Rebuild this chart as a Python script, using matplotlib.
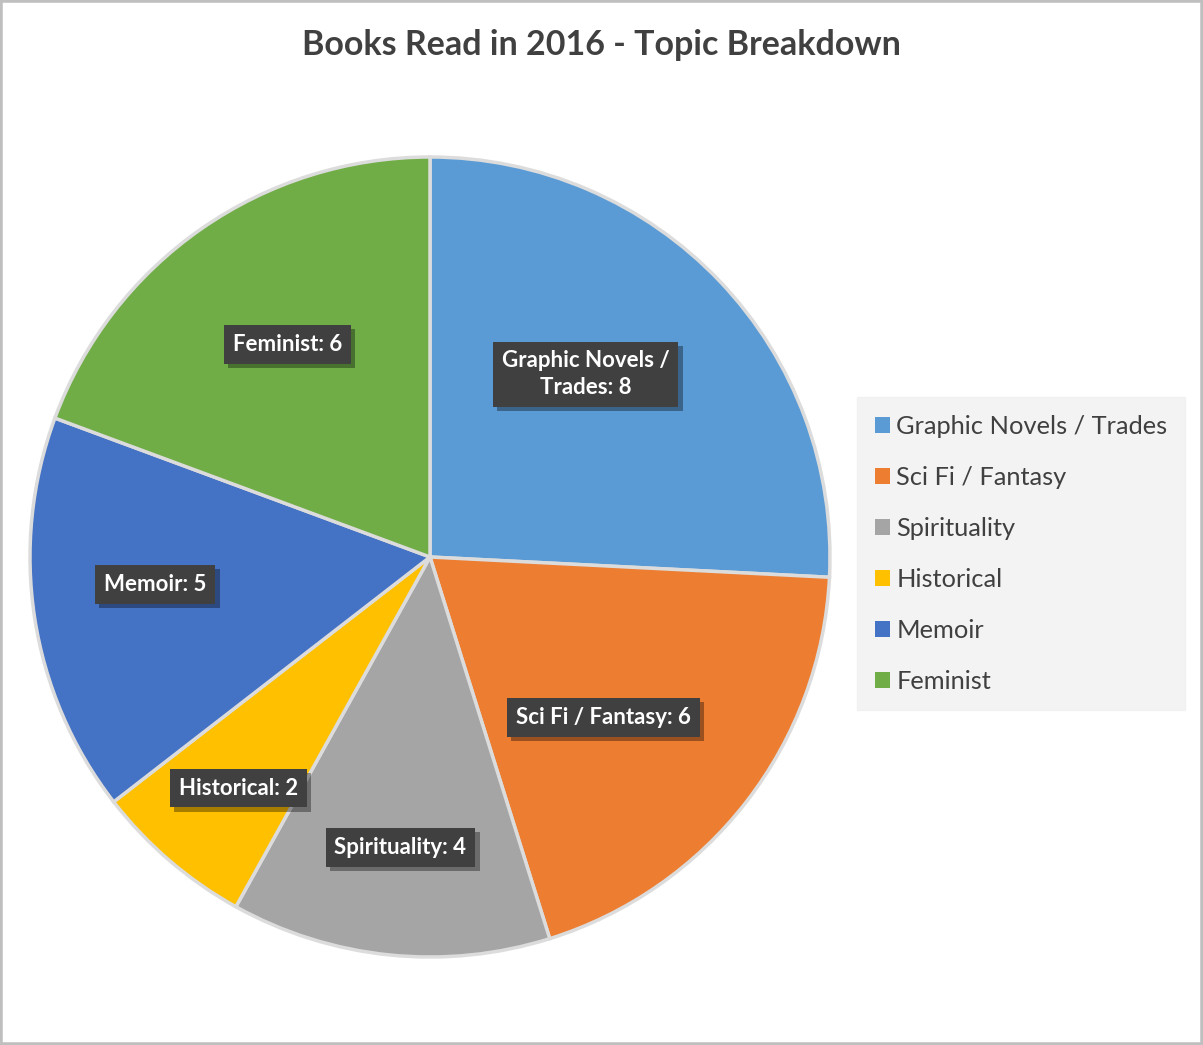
import numpy as np
import matplotlib.pyplot as plt
import matplotlib.patheffects as pe
from matplotlib.patches import Rectangle

plt.rcParams['font.family'] = ['Lato', 'DejaVu Sans']

# data
topics = ['Graphic Novels / Trades', 'Sci Fi / Fantasy', 'Spirituality',
          'Historical', 'Memoir', 'Feminist']
label_text = ['Graphic Novels /\nTrades', 'Sci Fi / Fantasy', 'Spirituality',
              'Historical', 'Memoir', 'Feminist']
counts = [8, 6, 4, 2, 5, 6]

colors = ['#5B9BD5', '#ED7D31', '#A5A5A5', '#FFC000', '#4472C4', '#70AD47']
# label distance from centre (fraction of radius), per slice
label_dist = [0.60, 0.59, 0.73, 0.75, 0.69, 0.64]
label_shift = [6, -5, 0, 1, -3, -1]   # small angular tweak in degrees

fig = plt.figure(figsize=(12.03, 10.45), dpi=100)
fig.patch.set_facecolor('white')
fig.patches.append(Rectangle((0, 0), 1, 1, transform=fig.transFigure,
                             fill=False, edgecolor='#bfbfbf', linewidth=4))

ax = fig.add_axes([30/1203, 88/1045, 800/1203, 800/1045])
wedges, _ = ax.pie(counts, colors=colors, startangle=90, counterclock=False,
                   radius=1, wedgeprops=dict(edgecolor='#dcdcdc', linewidth=2.5))
ax.set_xlim(-1, 1)
ax.set_ylim(-1, 1)
ax.set_aspect('equal')
ax.axis('off')

for w, txt, n, d, s in zip(wedges, label_text, counts, label_dist, label_shift):
    ang = np.deg2rad((w.theta1 + w.theta2) / 2 + s)
    t = ax.text(d*np.cos(ang), d*np.sin(ang), '%s: %d' % (txt, n),
                ha='center', va='center', color='white', fontsize=16,
                fontweight='bold', linespacing=1.35,
                bbox=dict(boxstyle='square,pad=0.4', facecolor='#404040',
                          edgecolor='none'))
    t.get_bbox_patch().set_path_effects([
        pe.SimplePatchShadow(offset=(3, -3), shadow_rgbFace='black', alpha=0.35),
        pe.Normal()])

fig.text(601/1203, 1 - 45/1045, 'Books Read in 2016 - Topic Breakdown',
         ha='center', va='center', fontsize=24.5, fontweight='bold', color='#404040')

leg = fig.legend(wedges, topics, loc='upper left',
                 bbox_to_anchor=(857/1203, 1 - 397/1045),
                 fontsize=18.3, frameon=True, fancybox=False,
                 handlelength=0.6, handleheight=0.6, handletextpad=0.25,
                 labelspacing=1.1, borderpad=0.7, borderaxespad=0)
leg.get_frame().set_facecolor('#f0f0f0')
leg.get_frame().set_edgecolor('#f0f0f0')
for t in leg.get_texts():
    t.set_color('#404040')
for h in leg.legend_handles:
    h.set_edgecolor('none')

fig.savefig('out.png', dpi=100)
